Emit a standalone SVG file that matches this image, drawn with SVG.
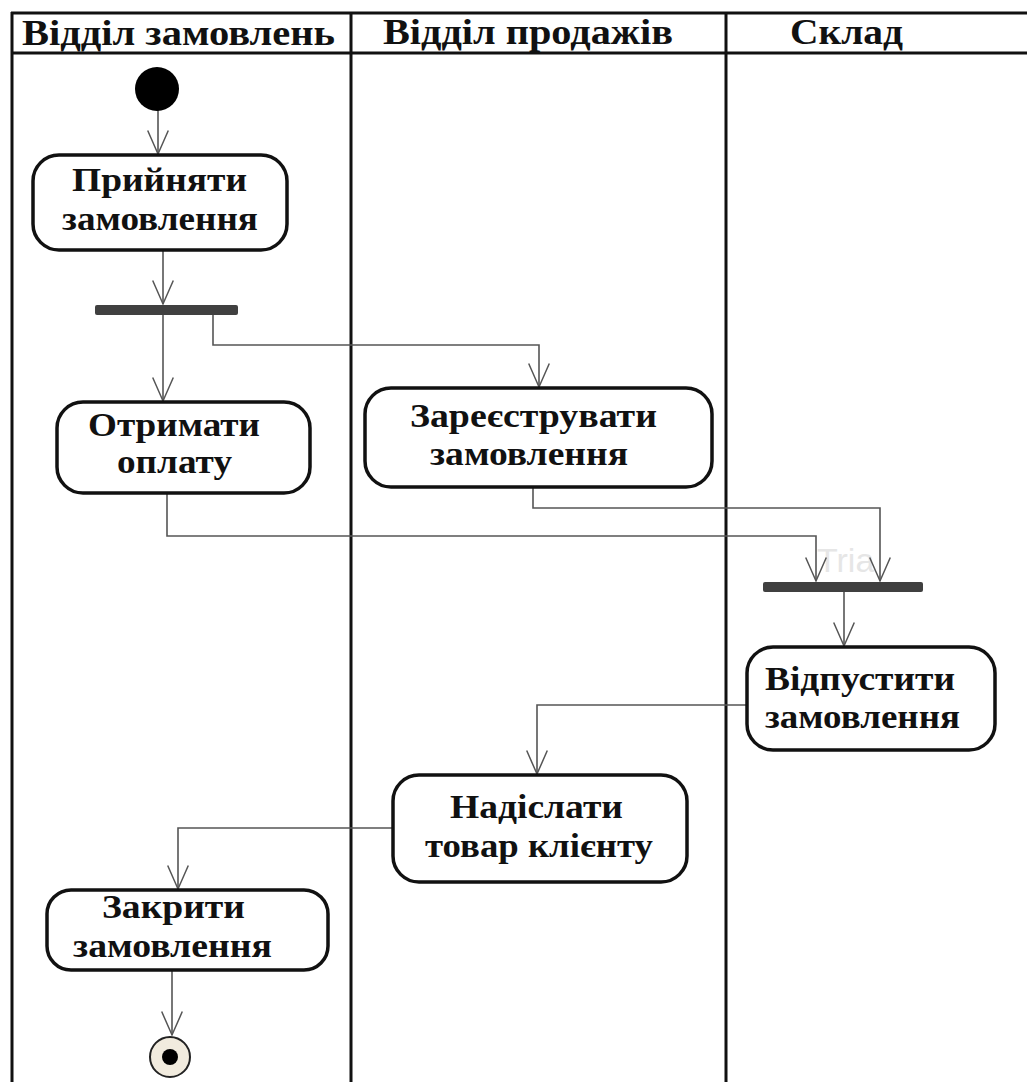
<svg xmlns="http://www.w3.org/2000/svg" width="1027" height="1082" viewBox="0 0 1027 1082">
<style>
.lane{stroke:#111;stroke-width:3;fill:none}
.hdr{font-family:"Liberation Serif","Times New Roman",serif;font-weight:bold;font-size:36px;fill:#111}
.node{fill:#fff;stroke:#111;stroke-width:3.5}
.lbl{font-family:"Liberation Serif","Times New Roman",serif;font-weight:bold;font-size:34px;fill:#111}
.bar{fill:#404040}
.edge{fill:none;stroke:#555;stroke-width:1.6;marker-end:url(#arr)}
</style>
<defs>
<marker id="arr" markerUnits="userSpaceOnUse" markerWidth="30" markerHeight="30" refX="0" refY="0" orient="auto" overflow="visible" viewBox="-30 -15 32 30">
<path d="M-25,-11 L0,0 L-25,11" fill="none" stroke="#555" stroke-width="1.6"/>
</marker>
</defs>
<rect width="1027" height="1082" fill="#fff"/>
<g id="swimlanes">
<line class="lane" x1="11" y1="13" x2="1027" y2="13"/>
<line class="lane" x1="11" y1="53" x2="1027" y2="53" stroke-width="2.5"/>
<line class="lane" x1="12" y1="12" x2="12" y2="1082"/>
<line class="lane" x1="351" y1="13" x2="351" y2="1082"/>
<line class="lane" x1="726" y1="13" x2="726" y2="1082"/>
<text class="hdr" x="22" y="45" textLength="313" lengthAdjust="spacingAndGlyphs">Відділ замовлень</text>
<text class="hdr" x="383" y="44" textLength="290" lengthAdjust="spacingAndGlyphs">Відділ продажів</text>
<text class="hdr" x="790" y="44" textLength="113" lengthAdjust="spacingAndGlyphs">Склад</text>
</g>
<text x="817" y="572" font-family="Liberation Sans, Arial, sans-serif" font-size="34" fill="#e6e6e6">Tria</text>
<g id="connectors">
<path class="edge" d="M158,110 L158,154"/>
<path class="edge" d="M163,250 L163,304"/>
<path class="edge" d="M163,315 L163,401"/>
<path class="edge" d="M213,315 L213,345 L539,345 L539,387"/>
<path class="edge" d="M167,493 L167,536 L816,536 L816,581"/>
<path class="edge" d="M533,487 L533,508 L880,508 L880,581"/>
<path class="edge" d="M844,592 L844,646"/>
<path class="edge" d="M747,705 L537,705 L537,774"/>
<path class="edge" d="M393,828 L178,828 L178,889"/>
<path class="edge" d="M172,970 L172,1035"/>
</g>
<g id="start"><circle cx="157" cy="89" r="22" fill="#000"/></g>
<g id="n-pryiniaty">
<rect class="node" x="33" y="155" width="254" height="95" rx="26"/>
<text class="lbl" x="72" y="191" textLength="175" lengthAdjust="spacingAndGlyphs">Прийняти</text>
<text class="lbl" x="62" y="230" textLength="196" lengthAdjust="spacingAndGlyphs">замовлення</text>
</g>
<g id="fork1"><rect class="bar" x="95" y="305" width="143" height="10" rx="2"/></g>
<g id="n-otrymaty">
<rect class="node" x="57" y="402" width="253" height="91" rx="26"/>
<text class="lbl" x="88" y="436" textLength="172" lengthAdjust="spacingAndGlyphs">Отримати</text>
<text class="lbl" x="117" y="473" textLength="115" lengthAdjust="spacingAndGlyphs">оплату</text>
</g>
<g id="n-zareiestruvaty">
<rect class="node" x="365" y="388" width="347" height="99" rx="26"/>
<text class="lbl" x="410" y="427" textLength="247" lengthAdjust="spacingAndGlyphs">Зареєструвати</text>
<text class="lbl" x="430" y="465" textLength="198" lengthAdjust="spacingAndGlyphs">замовлення</text>
</g>
<g id="join1"><rect class="bar" x="763" y="582" width="160" height="10" rx="2"/></g>
<g id="n-vidpustyty">
<rect class="node" x="747" y="647" width="248" height="103" rx="26"/>
<text class="lbl" x="765" y="690" textLength="190" lengthAdjust="spacingAndGlyphs">Відпустити</text>
<text class="lbl" x="765" y="728" textLength="195" lengthAdjust="spacingAndGlyphs">замовлення</text>
</g>
<g id="n-nadislaty">
<rect class="node" x="393" y="775" width="294" height="107" rx="26"/>
<text class="lbl" x="450" y="818" textLength="173" lengthAdjust="spacingAndGlyphs">Надіслати</text>
<text class="lbl" x="425" y="857" textLength="228" lengthAdjust="spacingAndGlyphs">товар клієнту</text>
</g>
<g id="n-zakryty">
<rect class="node" x="47" y="890" width="281" height="80" rx="24"/>
<text class="lbl" x="102" y="918" textLength="143" lengthAdjust="spacingAndGlyphs">Закрити</text>
<text class="lbl" x="73" y="957" textLength="199" lengthAdjust="spacingAndGlyphs">замовлення</text>
</g>
<g id="final">
<circle cx="170" cy="1057" r="20" fill="#f1ebde" stroke="#222" stroke-width="2"/>
<circle cx="170" cy="1057" r="8" fill="#000"/>
</g>
</svg>
